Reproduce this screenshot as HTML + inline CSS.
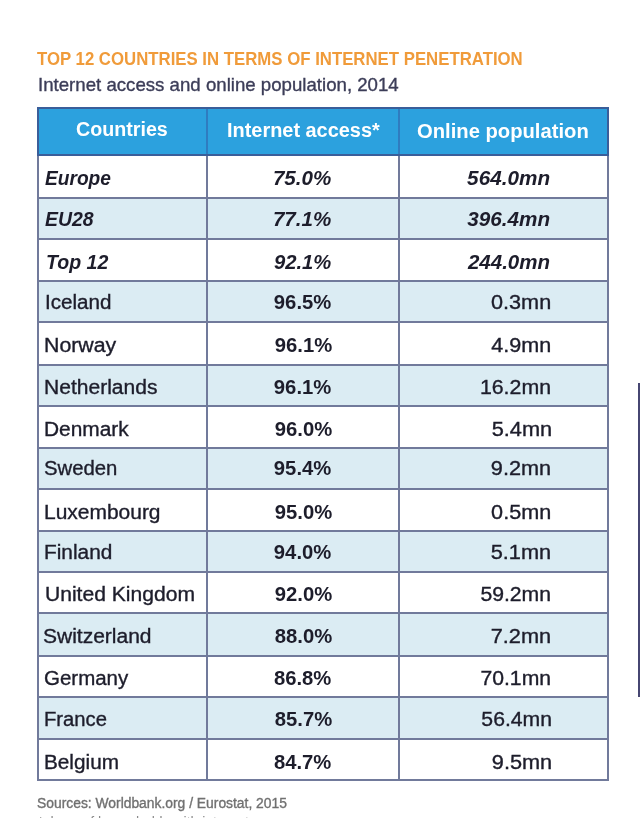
<!DOCTYPE html><html><head><meta charset="utf-8"><style>
html,body{margin:0;padding:0;background:#fff;}
body{width:640px;height:818px;overflow:hidden;position:relative;font-family:"Liberation Sans",sans-serif;}
.a{position:absolute;}
.t{position:absolute;white-space:nowrap;line-height:1;}
.b{font-weight:bold}.i{font-style:italic}.bi{font-weight:bold;font-style:italic}.rg{-webkit-text-stroke:0.35px currentColor}
#w{position:absolute;left:0;top:0;width:640px;height:818px;overflow:hidden;filter:blur(0.35px);}
</style></head><body><div id="w">
<div class="a" style="left:38.2px;top:107.5px;width:570.0px;height:48.40px;background:#2ca1de;"></div>
<div class="a" style="left:38.2px;top:198.10px;width:570.0px;height:40.70px;background:#dbecf3;"></div>
<div class="a" style="left:38.2px;top:281.40px;width:570.0px;height:40.70px;background:#dbecf3;"></div>
<div class="a" style="left:38.2px;top:364.50px;width:570.0px;height:41.00px;background:#dbecf3;"></div>
<div class="a" style="left:38.2px;top:448.00px;width:570.0px;height:40.70px;background:#dbecf3;"></div>
<div class="a" style="left:38.2px;top:531.30px;width:570.0px;height:40.70px;background:#dbecf3;"></div>
<div class="a" style="left:38.2px;top:612.90px;width:570.0px;height:42.60px;background:#dbecf3;"></div>
<div class="a" style="left:38.2px;top:696.50px;width:570.0px;height:42.30px;background:#dbecf3;"></div>
<div class="a" style="left:206.0px;top:107.50px;width:2.0px;height:47.60px;background:#2f7cc0;"></div>
<div class="a" style="left:398.0px;top:107.50px;width:2.0px;height:47.60px;background:#2f7cc0;"></div>
<div class="a" style="left:37.2px;top:107.50px;width:2.0px;height:47.60px;background:#3a5e9a;"></div>
<div class="a" style="left:607.2px;top:107.50px;width:2.0px;height:47.60px;background:#3a5e9a;"></div>
<div class="a" style="left:37.2px;top:106.5px;width:572.0px;height:2.0px;background:#3a5e9a;"></div>
<div class="a" style="left:37.2px;top:154.10px;width:572.0px;height:2.0px;background:#3a5e9a;"></div>
<div class="a" style="left:37.2px;top:197.10px;width:572.0px;height:2.0px;background:#717a9b;"></div>
<div class="a" style="left:37.2px;top:237.80px;width:572.0px;height:2.0px;background:#717a9b;"></div>
<div class="a" style="left:37.2px;top:280.40px;width:572.0px;height:2.0px;background:#717a9b;"></div>
<div class="a" style="left:37.2px;top:321.10px;width:572.0px;height:2.0px;background:#717a9b;"></div>
<div class="a" style="left:37.2px;top:363.50px;width:572.0px;height:2.0px;background:#717a9b;"></div>
<div class="a" style="left:37.2px;top:404.50px;width:572.0px;height:2.0px;background:#717a9b;"></div>
<div class="a" style="left:37.2px;top:447.00px;width:572.0px;height:2.0px;background:#717a9b;"></div>
<div class="a" style="left:37.2px;top:487.70px;width:572.0px;height:2.0px;background:#717a9b;"></div>
<div class="a" style="left:37.2px;top:530.30px;width:572.0px;height:2.0px;background:#717a9b;"></div>
<div class="a" style="left:37.2px;top:571.00px;width:572.0px;height:2.0px;background:#717a9b;"></div>
<div class="a" style="left:37.2px;top:611.90px;width:572.0px;height:2.0px;background:#717a9b;"></div>
<div class="a" style="left:37.2px;top:654.50px;width:572.0px;height:2.0px;background:#717a9b;"></div>
<div class="a" style="left:37.2px;top:695.50px;width:572.0px;height:2.0px;background:#717a9b;"></div>
<div class="a" style="left:37.2px;top:737.80px;width:572.0px;height:2.0px;background:#717a9b;"></div>
<div class="a" style="left:37.2px;top:778.70px;width:572.0px;height:2.0px;background:#717a9b;"></div>
<div class="a" style="left:37.2px;top:156.10px;width:2.0px;height:624.60px;background:#717a9b;"></div>
<div class="a" style="left:206.0px;top:156.10px;width:2.0px;height:624.60px;background:#717a9b;"></div>
<div class="a" style="left:398.0px;top:156.10px;width:2.0px;height:624.60px;background:#717a9b;"></div>
<div class="a" style="left:607.2px;top:156.10px;width:2.0px;height:624.60px;background:#717a9b;"></div>
<div id="r0c1" class="t bi" style="left:45.44px;transform-origin:0 0;top:168.95px;font-size:19.5px;color:#1d1d2b;transform:scaleX(0.9821);">Europe</div>
<div id="r0c2" class="t bi" style="right:308.42px;transform-origin:100% 0;top:168.95px;font-size:19.5px;color:#1d1d2b;transform:scaleX(1.0562);">75.0%</div>
<div id="r0c3" class="t bi" style="right:89.46px;transform-origin:100% 0;top:168.95px;font-size:19.5px;color:#1d1d2b;transform:scaleX(1.0626);">564.0mn</div>
<div id="r1c1" class="t bi" style="left:45.21px;transform-origin:0 0;top:209.97px;font-size:19.5px;color:#1d1d2b;transform:scaleX(0.9983);">EU28</div>
<div id="r1c2" class="t bi" style="right:308.23px;transform-origin:100% 0;top:209.97px;font-size:19.5px;color:#1d1d2b;transform:scaleX(1.0562);">77.1%</div>
<div id="r1c3" class="t bi" style="right:89.50px;transform-origin:100% 0;top:209.97px;font-size:19.5px;color:#1d1d2b;transform:scaleX(1.0616);">396.4mn</div>
<div id="r2c1" class="t bi" style="left:45.53px;transform-origin:0 0;top:252.69px;font-size:19.5px;color:#1d1d2b;transform:scaleX(1.0021);">Top 12</div>
<div id="r2c2" class="t bi" style="right:308.46px;transform-origin:100% 0;top:252.69px;font-size:19.5px;color:#1d1d2b;transform:scaleX(1.0384);">92.1%</div>
<div id="r2c3" class="t bi" style="right:89.55px;transform-origin:100% 0;top:252.69px;font-size:19.5px;color:#1d1d2b;transform:scaleX(1.0528);">244.0mn</div>
<div id="r3c1" class="t rg" style="left:44.63px;transform-origin:0 0;top:292.97px;font-size:19.5px;color:#1d1d2b;transform:scaleX(1.0580);">Iceland</div>
<div id="r3c2" class="t b" style="right:308.35px;transform-origin:100% 0;top:292.97px;font-size:19.5px;color:#1d1d2b;transform:scaleX(1.0391);">96.5%</div>
<div id="r3c3" class="t rg" style="right:88.67px;transform-origin:100% 0;top:292.97px;font-size:19.5px;color:#1d1d2b;transform:scaleX(1.1103);">0.3mn</div>
<div id="r4c1" class="t rg" style="left:44.09px;transform-origin:0 0;top:335.69px;font-size:19.5px;color:#1d1d2b;transform:scaleX(1.0924);">Norway</div>
<div id="r4c2" class="t b" style="right:308.07px;transform-origin:100% 0;top:335.69px;font-size:19.5px;color:#1d1d2b;transform:scaleX(1.0394);">96.1%</div>
<div id="r4c3" class="t rg" style="right:88.35px;transform-origin:100% 0;top:335.69px;font-size:19.5px;color:#1d1d2b;transform:scaleX(1.1056);">4.9mn</div>
<div id="r5c1" class="t rg" style="left:44.21px;transform-origin:0 0;top:377.97px;font-size:19.5px;color:#1d1d2b;transform:scaleX(1.0787);">Netherlands</div>
<div id="r5c2" class="t b" style="right:308.35px;transform-origin:100% 0;top:377.97px;font-size:19.5px;color:#1d1d2b;transform:scaleX(1.0391);">96.1%</div>
<div id="r5c3" class="t rg" style="right:88.55px;transform-origin:100% 0;top:377.97px;font-size:19.5px;color:#1d1d2b;transform:scaleX(1.0941);">16.2mn</div>
<div id="r6c1" class="t rg" style="left:44.24px;transform-origin:0 0;top:419.97px;font-size:19.5px;color:#1d1d2b;transform:scaleX(1.0713);">Denmark</div>
<div id="r6c2" class="t b" style="right:308.07px;transform-origin:100% 0;top:419.97px;font-size:19.5px;color:#1d1d2b;transform:scaleX(1.0394);">96.0%</div>
<div id="r6c3" class="t rg" style="right:88.13px;transform-origin:100% 0;top:419.97px;font-size:19.5px;color:#1d1d2b;transform:scaleX(1.1173);">5.4mn</div>
<div id="r7c1" class="t rg" style="left:43.66px;transform-origin:0 0;top:459.47px;font-size:19.5px;color:#1d1d2b;transform:scaleX(1.0415);">Sweden</div>
<div id="r7c2" class="t b" style="right:308.35px;transform-origin:100% 0;top:459.47px;font-size:19.5px;color:#1d1d2b;transform:scaleX(1.0391);">95.4%</div>
<div id="r7c3" class="t rg" style="right:88.52px;transform-origin:100% 0;top:459.47px;font-size:19.5px;color:#1d1d2b;transform:scaleX(1.1134);">9.2mn</div>
<div id="r8c1" class="t rg" style="left:44.18px;transform-origin:0 0;top:502.69px;font-size:19.5px;color:#1d1d2b;transform:scaleX(1.0749);">Luxembourg</div>
<div id="r8c2" class="t b" style="right:308.07px;transform-origin:100% 0;top:502.69px;font-size:19.5px;color:#1d1d2b;transform:scaleX(1.0394);">95.0%</div>
<div id="r8c3" class="t rg" style="right:88.40px;transform-origin:100% 0;top:502.69px;font-size:19.5px;color:#1d1d2b;transform:scaleX(1.1086);">0.5mn</div>
<div id="r9c1" class="t rg" style="left:44.17px;transform-origin:0 0;top:542.97px;font-size:19.5px;color:#1d1d2b;transform:scaleX(1.0682);">Finland</div>
<div id="r9c2" class="t b" style="right:308.35px;transform-origin:100% 0;top:542.97px;font-size:19.5px;color:#1d1d2b;transform:scaleX(1.0391);">94.0%</div>
<div id="r9c3" class="t rg" style="right:88.55px;transform-origin:100% 0;top:542.97px;font-size:19.5px;color:#1d1d2b;transform:scaleX(1.1160);">5.1mn</div>
<div id="r10c1" class="t rg" style="left:44.51px;transform-origin:0 0;top:585.23px;font-size:19.5px;color:#1d1d2b;transform:scaleX(1.0807);">United Kingdom</div>
<div id="r10c2" class="t b" style="right:308.07px;transform-origin:100% 0;top:585.23px;font-size:19.5px;color:#1d1d2b;transform:scaleX(1.0394);">92.0%</div>
<div id="r10c3" class="t rg" style="right:88.67px;transform-origin:100% 0;top:585.23px;font-size:19.5px;color:#1d1d2b;transform:scaleX(1.0864);">59.2mn</div>
<div id="r11c1" class="t rg" style="left:43.41px;transform-origin:0 0;top:626.95px;font-size:19.5px;color:#1d1d2b;transform:scaleX(1.0769);">Switzerland</div>
<div id="r11c2" class="t b" style="right:308.09px;transform-origin:100% 0;top:626.95px;font-size:19.5px;color:#1d1d2b;transform:scaleX(1.0394);">88.0%</div>
<div id="r11c3" class="t rg" style="right:88.34px;transform-origin:100% 0;top:626.95px;font-size:19.5px;color:#1d1d2b;transform:scaleX(1.1165);">7.2mn</div>
<div id="r12c1" class="t rg" style="left:44.28px;transform-origin:0 0;top:669.43px;font-size:19.5px;color:#1d1d2b;transform:scaleX(1.0508);">Germany</div>
<div id="r12c2" class="t b" style="right:308.27px;transform-origin:100% 0;top:669.43px;font-size:19.5px;color:#1d1d2b;transform:scaleX(1.0384);">86.8%</div>
<div id="r12c3" class="t rg" style="right:88.55px;transform-origin:100% 0;top:669.43px;font-size:19.5px;color:#1d1d2b;transform:scaleX(1.0859);">70.1mn</div>
<div id="r13c1" class="t rg" style="left:44.34px;transform-origin:0 0;top:710.45px;font-size:19.5px;color:#1d1d2b;transform:scaleX(1.0371);">France</div>
<div id="r13c2" class="t b" style="right:308.09px;transform-origin:100% 0;top:710.45px;font-size:19.5px;color:#1d1d2b;transform:scaleX(1.0394);">85.7%</div>
<div id="r13c3" class="t rg" style="right:88.46px;transform-origin:100% 0;top:710.45px;font-size:19.5px;color:#1d1d2b;transform:scaleX(1.0865);">56.4mn</div>
<div id="r14c1" class="t rg" style="left:44.37px;transform-origin:0 0;top:752.69px;font-size:19.5px;color:#1d1d2b;transform:scaleX(1.0638);">Belgium</div>
<div id="r14c2" class="t b" style="right:308.27px;transform-origin:100% 0;top:752.69px;font-size:19.5px;color:#1d1d2b;transform:scaleX(1.0384);">84.7%</div>
<div id="r14c3" class="t rg" style="right:88.20px;transform-origin:100% 0;top:752.69px;font-size:19.5px;color:#1d1d2b;transform:scaleX(1.1145);">9.5mn</div>
<div id="h1" class="t b" style="left:76.48px;transform-origin:0 0;top:119.99px;font-size:19.5px;color:#fff;transform:scaleX(1.0088);">Countries</div>
<div id="h2" class="t b" style="left:226.63px;transform-origin:0 0;top:121.39px;font-size:19.5px;color:#fff;transform:scaleX(1.0210);">Internet access*</div>
<div id="h3" class="t b" style="left:417.29px;transform-origin:0 0;top:121.69px;font-size:19.5px;color:#fff;transform:scaleX(1.0364);">Online population</div>
<div id="title" class="t b" style="left:37.38px;transform-origin:0 0;top:50.37px;font-size:18.7px;color:#f09b3a;transform:scaleX(0.8979);">TOP 12 COUNTRIES IN TERMS OF INTERNET PENETRATION</div>
<div id="sub" class="t rg" style="left:38.17px;transform-origin:0 0;top:75.94px;font-size:18.5px;color:#3c3d58;transform:scaleX(1.0078);">Internet access and online population, 2014</div>
<div id="src" class="t rg" style="left:37.38px;transform-origin:0 0;top:795.75px;font-size:14.0px;color:#707070;transform:scaleX(0.9892);">Sources: Worldbank.org / Eurostat, 2015</div>
<div class="a" style="left:638px;top:383px;width:2px;height:314px;background:#464672;"></div>
<div class="t" style="left:38px;top:815.05px;font-size:14px;color:#8a8a8a;">*share of households with internet access</div>
</div></body></html>
